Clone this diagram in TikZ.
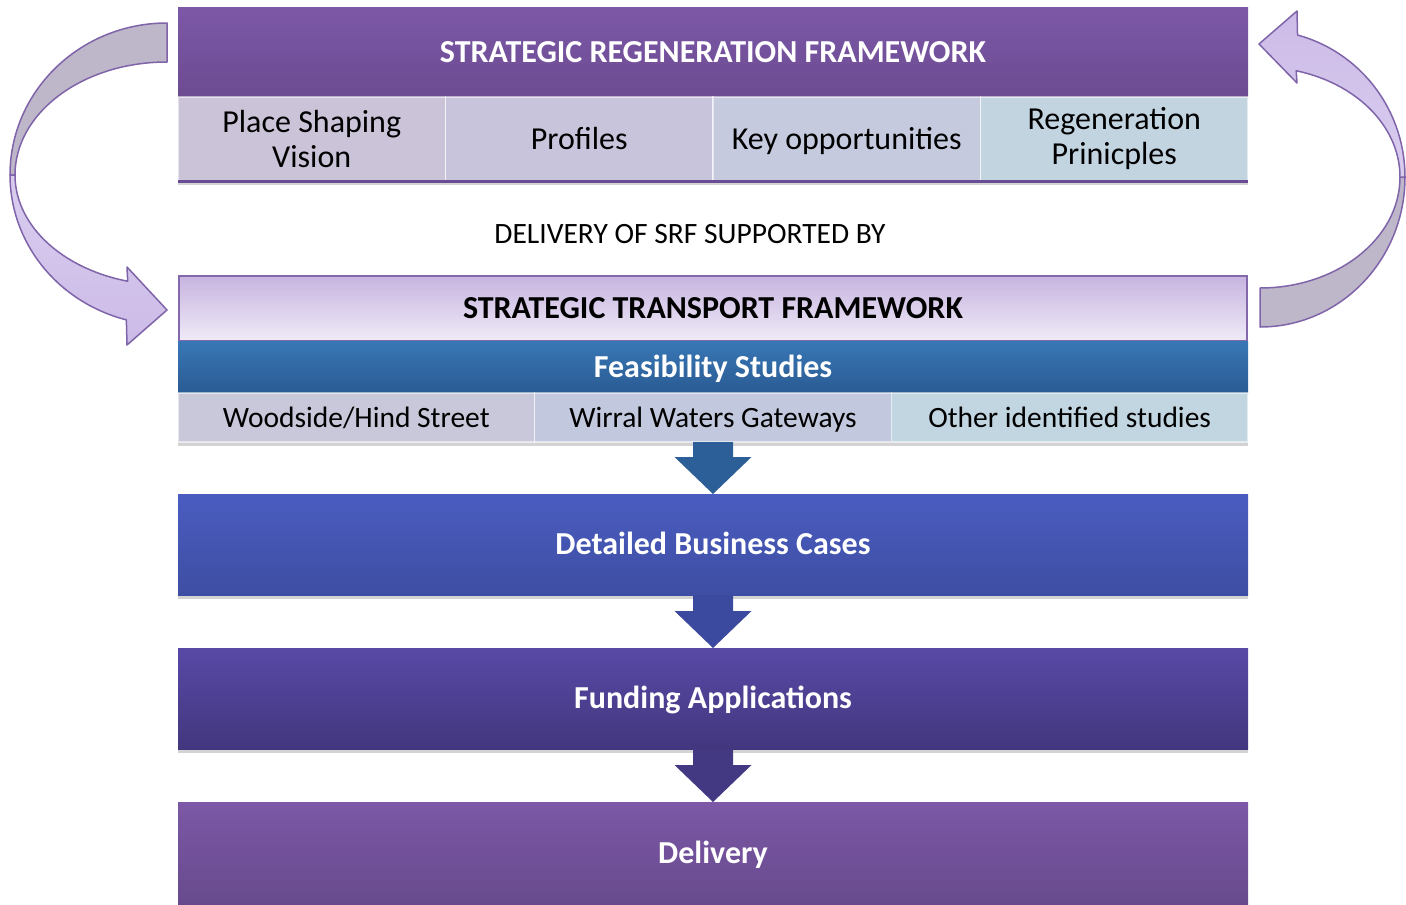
\documentclass[tikz,border=0pt]{standalone}
\usepackage{fontspec}
\setmainfont{Carlito}
\usetikzlibrary{shadows,calc}
\definecolor{srfT}{HTML}{7C58A7}
\definecolor{srfB}{HTML}{6D4B91}
\definecolor{srfLine}{HTML}{6A4C94}
\definecolor{cA}{HTML}{CBC3D8}
\definecolor{cB}{HTML}{C8C4DC}
\definecolor{cC}{HTML}{C5CADF}
\definecolor{cD}{HTML}{C3D4E1}
\definecolor{stfT}{HTML}{C7B4E0}
\definecolor{stfB}{HTML}{EFEBF7}
\definecolor{stfD}{HTML}{8468AC}
\definecolor{fsT}{HTML}{3877B5}
\definecolor{fsB}{HTML}{2A5B93}
\definecolor{rA}{HTML}{C9C8DA}
\definecolor{rB}{HTML}{C2C8DE}
\definecolor{rC}{HTML}{C1D6E1}
\definecolor{dbcT}{HTML}{4A5CC0}
\definecolor{dbcB}{HTML}{3E4EA3}
\definecolor{fuT}{HTML}{5849A6}
\definecolor{fuM}{HTML}{46398A}
\definecolor{fuB}{HTML}{42377E}
\definecolor{dvT}{HTML}{7C58A6}
\definecolor{dvB}{HTML}{674A8D}
\definecolor{arA}{HTML}{2C5F97}
\definecolor{arB}{HTML}{3B4A9E}
\definecolor{arC}{HTML}{433983}
\definecolor{caLine}{HTML}{7F64A9}
\definecolor{backC}{HTML}{BEB7CA}
\definecolor{frontT}{HTML}{D9CDEF}
\definecolor{frontB}{HTML}{CCBBE7}
\newcommand\blkarrow[3]{%
  \fill[#3] ([xshift=-20pt]#1.south) -- ([xshift=20pt]#1.south)
    -- ([xshift=20pt,yshift=37pt]#2.north) -- ([xshift=38.5pt,yshift=37pt]#2.north)
    -- (#2.north) -- ([xshift=-38.5pt,yshift=37pt]#2.north)
    -- ([xshift=-20pt,yshift=37pt]#2.north) -- cycle;}
\begin{document}
\begin{tikzpicture}[x=1pt,y=-1pt,
  box/.style={rectangle, inner sep=0pt, outer sep=0pt, anchor=center,
    font=\fontsize{32}{35}\selectfont},
  one/.style={text height=24pt, text depth=3.4pt},
  small/.style={font=\fontsize{29.5}{35}\selectfont, text height=22pt, text depth=3pt},
  hdr/.style={box, one, text=white, font=\bfseries\fontsize{32}{35}\selectfont},
  cell/.style={box, draw=white, draw opacity=0.55, line width=1.2pt, text=black, align=center},
  shad/.style={drop shadow={opacity=0.35, shadow xshift=0pt, shadow yshift=-4pt}},
  carrow/.style={draw=caLine, line width=1.5pt, line join=round}]
\useasboundingbox (0,0) rectangle (1406,905);

% curved arrows
\draw[carrow, fill=backC] (167,23) .. controls (80.3,23) and (10,91) .. (10,175)
  -- (15,175) .. controls (15,112.6) and (83,62) .. (167,62) -- cycle;
\draw[carrow, top color=frontT, bottom color=frontB]
  plot[variable=\t, domain=0:75, samples=30] ({167-157*cos(\t)},{175+150*sin(\t)})
  -- (127,345) -- (167,310) -- (127,267) -- (127.7,281.3)
  -- plot[variable=\t, domain=75:0, samples=30] ({167-152*cos(\t)},{175+110*sin(\t)}) -- cycle;
\draw[carrow, fill=backC] (1260,327) .. controls (1340.1,327) and (1405,259.8) .. (1405,177)
  -- (1400,177) .. controls (1400,238.3) and (1337.3,288) .. (1260,288) -- cycle;
\draw[carrow, top color=frontB, bottom color=frontT]
  plot[variable=\t, domain=0:75, samples=30] ({1260+145*cos(\t)},{177-147*sin(\t)})
  -- (1297,11) -- (1259,44) -- (1297,83) -- (1296.2,70.7)
  -- plot[variable=\t, domain=75:0, samples=30] ({1260+140*cos(\t)},{177-110*sin(\t)}) -- cycle;

% SRF
\node[hdr, shad, minimum width=1070pt, minimum height=90pt, top color=srfT, bottom color=srfB]
  (srf) at (713,52) {STRATEGIC REGENERATION FRAMEWORK};
\node[cell, shad, fill=cA, minimum width=267.5pt, minimum height=84pt] (psv) at (311.75,139) {Place Shaping\\Vision};
\node[cell, one, shad, fill=cB, minimum width=267.5pt, minimum height=84pt] (prof) at (579.25,139) {Profiles};
\node[cell, one, shad, fill=cC, minimum width=267.5pt, minimum height=84pt] (keyop) at (846.75,139) {Key opportunities};
\node[cell, shad, fill=cD, minimum width=267.5pt, minimum height=84pt] (regp) at (1114.25,139) {Regeneration\\Prinicples};
\draw[srfLine, line width=3pt] (psv.south west) -- (regp.south east);

\node[box, small] (dlvsrf) at (690,234) {DELIVERY OF SRF SUPPORTED BY};

% STF
\node[hdr, text=black, shad, draw=stfD, line width=2pt, top color=stfT, bottom color=stfB,
  minimum width=1068pt, minimum height=65pt] (stf) at (713,308.5) {STRATEGIC TRANSPORT FRAMEWORK};
\node[hdr, top color=fsT, bottom color=fsB, minimum width=1070pt, minimum height=52pt]
  (fs) at (713,367) {Feasibility Studies};
\node[cell, small, shad, fill=rA, minimum width=356.67pt, minimum height=49pt] (wh) at (356.33,417.5) {Woodside/Hind Street};
\node[cell, small, shad, fill=rB, minimum width=356.67pt, minimum height=49pt] (ww) at (713,417.5) {Wirral Waters Gateways};
\node[cell, small, shad, fill=rC, minimum width=356.67pt, minimum height=49pt] (ot) at (1069.67,417.5) {Other identified studies};

% lower boxes
\node[hdr, shad, top color=dbcT, bottom color=dbcB, minimum width=1070pt, minimum height=101pt]
  (dbc) at (713,544.5) {Detailed Business Cases};
\node[hdr, shad, top color=fuT, middle color=fuM, bottom color=fuB, minimum width=1070pt, minimum height=101pt]
  (fund) at (713,698.5) {Funding Applications};
\node[hdr, top color=dvT, bottom color=dvB, minimum width=1070pt, minimum height=103pt]
  (deliv) at (713,853.5) {Delivery};

% block arrows
\blkarrow{ww}{dbc}{arA}
\blkarrow{dbc}{fund}{arB}
\blkarrow{fund}{deliv}{arC}
\end{tikzpicture}
\end{document}
